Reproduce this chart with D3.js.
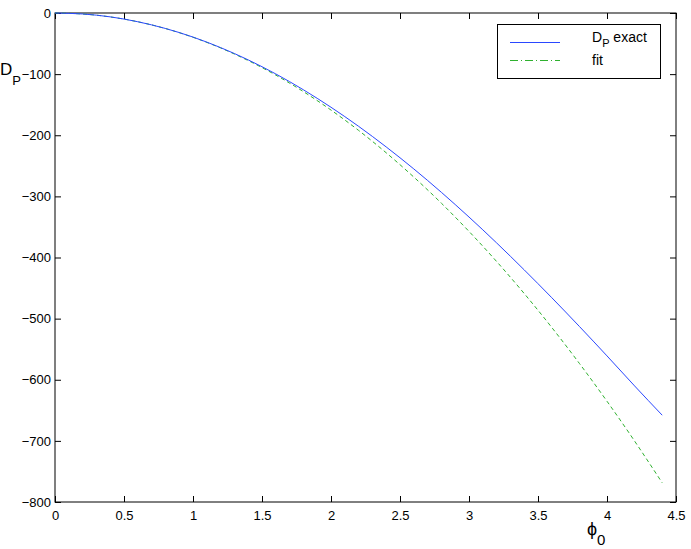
<!DOCTYPE html>
<html>
<head>
<meta charset="utf-8">
<script src="https://cdn.jsdelivr.net/npm/d3@7"></script>
<style>
  html, body { margin: 0; padding: 0; background: #fff; }
  svg { display: block; }
  text { font-family: "Liberation Sans", Arial, Helvetica, sans-serif; fill: #000; }
</style>
</head>
<body>
<svg id="chart" width="691" height="549"></svg>
<script>
// ---- data ----
const phi = [0, 0.2, 0.4, 0.6, 0.8, 1.0, 1.2, 1.4, 1.6, 1.8, 2.0, 2.2, 2.4, 2.6, 2.8, 3.0, 3.2, 3.4, 3.6, 3.8, 4.0, 4.2, 4.4];
const exactVals = [0, -1.6, -6.3, -14.3, -25.3, -39.4, -56.6, -76.7, -99.7, -125.6, -154.2, -185.4, -219.1, -255.1, -293.4, -333.8, -376.1, -420.2, -465.8, -512.8, -561.0, -610.1, -658.0];
const fitVals = [0, -1.6, -6.4, -14.3, -25.4, -39.7, -57.2, -77.8, -101.6, -128.6, -158.8, -192.1, -228.7, -268.4, -311.2, -357.3, -406.5, -458.9, -514.5, -573.3, -635.2, -700.3, -768.6];
const xTicks = [0, 0.5, 1, 1.5, 2, 2.5, 3, 3.5, 4, 4.5];
const yTicks = [0, -100, -200, -300, -400, -500, -600, -700, -800];

const svg = d3.select("#chart");
const L = 55, R = 676, T = 13, B = 502;
const x = d3.scaleLinear().domain([0, 4.5]).range([L, R]);
const y = d3.scaleLinear().domain([-800, 0]).range([B, T]);
const fmt = v => (v < 0 ? "\u2212" + Math.abs(v) : String(v));

const blue = "#2a48ff", green = "#2fb12f";

// axes (MATLAB style box with inward ticks)
const tl = 6;
svg.append("g").attr("transform", `translate(0,${B})`)
  .call(d3.axisBottom(x).tickValues(xTicks).tickSize(-tl).tickPadding(9).tickFormat(d => String(d)))
  .call(g => g.select(".domain").remove())
  .call(g => g.selectAll("text").attr("font-size", 13).attr("font-family", "Liberation Sans, Arial, sans-serif"));
svg.append("g").attr("transform", `translate(0,${T})`)
  .call(d3.axisTop(x).tickValues(xTicks).tickSize(-tl).tickFormat(""))
  .call(g => g.select(".domain").remove());
svg.append("g").attr("transform", `translate(${L},0)`)
  .call(d3.axisLeft(y).tickValues(yTicks).tickSize(-tl).tickPadding(4).tickFormat(fmt))
  .call(g => g.select(".domain").remove())
  .call(g => g.selectAll("text").attr("font-size", 13).attr("font-family", "Liberation Sans, Arial, sans-serif"));
svg.append("g").attr("transform", `translate(${R},0)`)
  .call(d3.axisRight(y).tickValues(yTicks).tickSize(-tl).tickFormat(""))
  .call(g => g.select(".domain").remove());
svg.selectAll(".tick line").attr("stroke", "#000");

svg.append("rect").attr("x", L).attr("y", T).attr("width", R - L).attr("height", B - T)
  .attr("fill", "none").attr("stroke", "#000").attr("stroke-width", 1);

// curves
const line = d3.line().x((d, i) => x(phi[i])).y(d => y(d)).curve(d3.curveNatural);
svg.append("path").datum(fitVals).attr("d", line)
  .attr("fill", "none").attr("stroke", green).attr("stroke-width", 1).attr("stroke-dasharray", "4,3");
svg.append("path").datum(exactVals).attr("d", line)
  .attr("fill", "none").attr("stroke", blue).attr("stroke-width", 1);

// axis labels
const yl = svg.append("text").attr("x", 0).attr("y", 75).attr("font-size", 17);
yl.append("tspan").text("D");
yl.append("tspan").attr("font-size", 13).attr("dy", 10).text("P");

const xl = svg.append("text").attr("x", 587).attr("y", 535).attr("font-size", 18);
xl.append("tspan").text("\u03D5");
xl.append("tspan").attr("font-size", 15).attr("dy", 10).text("0");

// legend
const lg = svg.append("g");
lg.append("rect").attr("x", 497.5).attr("y", 24.5).attr("width", 163).attr("height", 54)
  .attr("fill", "#fff").attr("stroke", "#000").attr("stroke-width", 1);
lg.append("line").attr("x1", 510).attr("x2", 560).attr("y1", 42.5).attr("y2", 42.5)
  .attr("stroke", blue).attr("stroke-width", 1);
lg.append("line").attr("x1", 510).attr("x2", 560).attr("y1", 60.5).attr("y2", 60.5)
  .attr("stroke", green).attr("stroke-width", 1).attr("stroke-dasharray", "8,3,1,3");
const t1 = lg.append("text").attr("x", 592).attr("y", 41.5).attr("font-size", 14);
t1.append("tspan").text("D");
t1.append("tspan").attr("font-size", 11).attr("dy", 5).text("P");
t1.append("tspan").attr("dy", -5).text(" exact");
lg.append("text").attr("x", 592).attr("y", 65).attr("font-size", 14).text("fit");
</script>
</body>
</html>
